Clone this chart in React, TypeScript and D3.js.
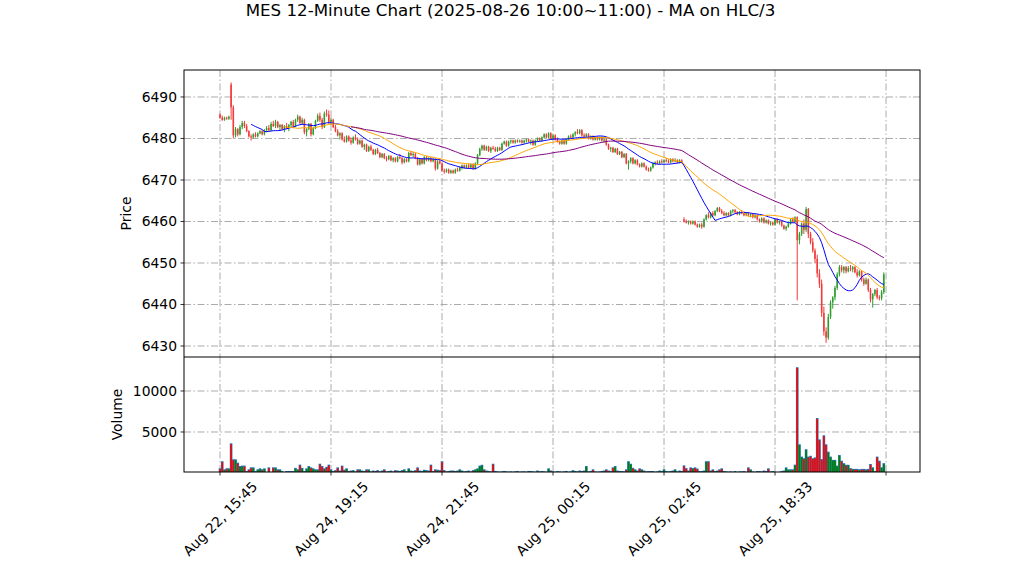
import React from "react";
import * as d3 from "d3";

const opens = [
  6485.75,6485,6484.5,6485,6484.75,6493,6487.5,6480.75,6482.25,6481,
  6482.75,6483.75,6483,6481.75,6480.5,6480.25,6481,6480.5,6481.25,6481.75,
  6481,6482,6482.5,6482,6483.5,6483,6484,6482.75,6483.25,6482.25,
  6483,6482.5,6483.25,6484,6483,6484.5,6485.25,6483.75,6484.5,6481.5,
  6482.25,6483.5,6481,6482.5,6484.25,6485.5,6484.5,6482.75,6486,6485.75,
  6484,6484.5,6482.75,6481.75,6480.75,6481.25,6479.75,6479.25,6480.5,6479.5,
  6479,6480.25,6479.75,6478.75,6479.5,6478,6478.5,6477,6478,6477.25,
  6476.25,6477.25,6476.5,6475.5,6476.25,6475.25,6475,6475.75,6474.75,6475.25,
  6474.5,6475.5,6475.25,6474.25,6475,6474.5,6476.5,6476,6476.25,6475.25,
  6473.75,6475,6474,6475.5,6474.75,6475.25,6474.5,6475,6472.75,6474.5,
  6474,6472.25,6472,6472.5,6471.75,6472.25,6471.75,6472.5,6472.25,6473,
  6473.5,6473,6473.5,6473,6473.75,6472.75,6474,6476,6477.5,6478.25,
  6477.25,6478,6477,6477.75,6477.5,6477,6477.75,6477.25,6478.75,6479.25,
  6478.25,6479.25,6479.5,6479,6479.5,6479.25,6479.5,6479,6479.5,6479.75,
  6479.25,6479.5,6478.5,6479.5,6480,6479.5,6480.25,6481,6480.25,6481.25,
  6480,6480.75,6479.75,6479.25,6478.75,6479.5,6478.75,6479.75,6480.5,6480.25,
  6481,6481.5,6481.25,6482,6480.75,6480.5,6481,6480,6480.5,6479.75,
  6480.25,6479.75,6480.25,6479.5,6479.75,6478.5,6477.5,6477.75,6476.75,6477.5,
  6476.25,6476.75,6475.5,6476.25,6474,6474.5,6475.25,6474,6474.75,6473.75,
  6473.25,6474,6473.25,6472.5,6472.25,6473,6474,6474.25,6474,6474.5,
  6474.25,6474.75,6474.5,6474.25,6475,6474.5,6474.75,6474.25,6474.75,6460.5,
  6460,6459.75,6460,6459.5,6460,6459.25,6458.75,6459.25,6458.75,6460.5,
  6461.5,6461,6462,6461.5,6462.5,6463.25,6462.5,6462,6461.5,6462,
  6461.5,6462.5,6462.75,6462.25,6461.75,6462.25,6462,6461.5,6462,6461.5,
  6461.75,6461,6461.5,6460.5,6460,6460.75,6459.75,6460.25,6459.5,6459.75,
  6459.25,6460.5,6459.75,6460,6459,6458.25,6458.75,6459.5,6460.5,6460,
  6461,6455.5,6457,6459.5,6458,6463,6457,6455,6453,6451,
  6447.5,6445,6438,6433.5,6432,6437,6440.5,6441.75,6444,6447.25,
  6449,6448.25,6449,6448,6448.75,6448.5,6449,6447.75,6447,6448,
  6446,6445,6446,6443.5,6441.25,6442.5,6443.5,6441.75,6441.5,6443,
];

const highs = [
  6486,6485.5,6485.25,6485.25,6485.5,6493.5,6488,6482.75,6482.5,6483.25,
  6484.25,6484.25,6483.5,6482,6481,6481.25,6481.5,6481.5,6482,6482,
  6482.25,6483,6483.25,6484,6484.25,6484.5,6484.25,6483.5,6483.5,6483.25,
  6483.75,6483.5,6484.25,6484.5,6484.75,6485.75,6485.5,6485,6484.75,6482.5,
  6483.75,6483.75,6482.75,6484.5,6486,6486.25,6485,6486.5,6487,6486.75,
  6485,6484.75,6483.25,6482.25,6481.5,6481.5,6480.5,6480.75,6480.75,6480.25,
  6480.5,6481,6480.25,6479.75,6479.75,6478.75,6478.75,6478.25,6478.5,6477.5,
  6477.5,6477.75,6476.75,6476.5,6476.5,6475.75,6476,6476,6475.5,6475.5,
  6475.75,6476.25,6475.5,6475.25,6475.25,6476.75,6477,6476.75,6476.5,6475.5,
  6475.25,6475.25,6475.75,6475.75,6475.5,6475.5,6475.25,6475.25,6474.75,6475,
  6474.25,6472.75,6472.75,6472.75,6472.5,6472.5,6472.75,6473,6473.25,6473.75,
  6473.75,6473.75,6474,6474,6474,6474.25,6476.25,6477.75,6478.5,6478.5,
  6478.25,6478.25,6478,6478.25,6478,6478,6478,6479,6479.5,6479.5,
  6479.5,6479.75,6479.75,6479.75,6479.75,6479.75,6479.75,6479.75,6480,6480,
  6479.75,6479.75,6479.75,6480.25,6480.25,6480.5,6481.25,6481.25,6481.5,6481.5,
  6481,6481,6480.25,6479.5,6479.75,6479.75,6480,6480.75,6481,6481.25,
  6481.75,6482.25,6482.25,6482.25,6481.25,6481.25,6481.25,6480.75,6480.75,6480.5,
  6480.5,6480.5,6480.5,6480,6480,6478.75,6478,6478,6477.75,6477.75,
  6477,6477,6476.5,6476.5,6474.75,6475.5,6475.5,6475,6475,6474,
  6474.25,6474.25,6473.5,6473,6473.25,6474.25,6474.5,6474.75,6474.75,6475,
  6475,6475.25,6475,6475.25,6475.25,6475.25,6475,6475,6475,6461,
  6460.5,6460.25,6460.25,6460.25,6460.25,6459.5,6459.5,6459.75,6460.75,6461.75,
  6462.25,6462.25,6462.5,6462.75,6463.5,6463.5,6463,6462.5,6462.25,6462.25,
  6462.75,6463,6463,6462.5,6462.5,6462.75,6462.5,6462.25,6462.25,6462,
  6462,6461.75,6461.75,6460.75,6461,6461,6460.5,6460.5,6460,6460,
  6460.75,6460.75,6460.25,6460.25,6459.25,6459,6459.75,6460.75,6461,6461.25,
  6461.25,6457.5,6459.75,6460.5,6463.5,6463.25,6457.5,6456,6453.5,6452,
  6448.5,6446,6439.5,6434.5,6437.75,6441,6442,6444.5,6447.75,6449.5,
  6449.5,6449.25,6449.25,6449.25,6449.5,6449.25,6449.25,6448.5,6448.25,6448.25,
  6446.5,6446.5,6446.25,6444,6442.75,6443.75,6444,6442.25,6443.5,6447.75,
];

const lows = [
  6484.75,6484.25,6484.25,6484.5,6484.5,6484.5,6480,6480.25,6480.5,6480.75,
  6482.25,6482.5,6481.5,6480.25,6479.5,6480,6480.25,6480.25,6481,6480.75,
  6480.75,6481.5,6481.75,6481.75,6482.75,6482.5,6482.5,6482,6482,6481.5,
  6482.25,6481.75,6482.75,6482.5,6482.75,6484,6483.5,6483.25,6481,6480.5,
  6482,6480.5,6480.75,6482.25,6484,6484,6482.25,6482.5,6485.25,6483.5,
  6483.25,6482.5,6481.5,6480.5,6479.75,6479.5,6479,6479,6479.25,6478.5,
  6478.75,6479.5,6478.5,6478.5,6477.75,6477.25,6476.75,6476.75,6477,6476,
  6476,6476.25,6475.25,6475.25,6475,6474.5,6474.75,6474.5,6474.25,6474.25,
  6474.25,6475,6473.75,6474,6474.25,6474.25,6475.75,6475.5,6475,6473.5,
  6473.5,6473.75,6473.75,6474.5,6474.5,6474.25,6474.25,6472.25,6472.5,6473.75,
  6472,6471.5,6471.75,6471.5,6471.5,6471.5,6471.5,6472,6472,6472.5,
  6472.75,6472.75,6472.75,6472.75,6472.5,6472.5,6473.75,6475.75,6477,6477,
  6477,6476.75,6476.5,6477.25,6476.75,6476.75,6477,6477,6478.5,6478,
  6478,6478.75,6478.75,6478.75,6479,6479,6478.75,6478.75,6479,6479,
  6478.5,6478.25,6478.25,6479.25,6479.25,6479.25,6480,6480,6480,6479.75,
  6479.75,6479.5,6479,6478.5,6478.5,6478.5,6478.5,6479.5,6480,6480,
  6480.5,6481,6481,6480.5,6480,6480.25,6479.75,6479.75,6479.5,6479.5,
  6479.5,6479.5,6479.25,6479,6478.25,6477.25,6476.75,6476.5,6476.5,6476,
  6476,6475.25,6475.25,6473.75,6472.5,6474,6473.75,6473.75,6473.5,6473,
  6473,6473,6472.25,6472,6472,6472.75,6473.5,6473.75,6473.75,6474,
  6474,6474.25,6474,6474,6474.25,6474.25,6474,6474,6474,6459.75,
  6459.5,6459.25,6459.25,6459.25,6459,6458.5,6458.5,6458.25,6458.5,6460.25,
  6460.75,6460.75,6461.25,6461.25,6462.25,6462.25,6461.75,6461.25,6461.25,6461.25,
  6461.25,6462,6462,6461.5,6461.5,6461.75,6461.25,6461.25,6461.25,6461,
  6460.75,6460.75,6460.25,6459.75,6459.75,6459.5,6459.5,6459.25,6459,6459,
  6459,6459.5,6459.25,6458.75,6458,6457.75,6458.5,6459.25,6459.75,6459.75,
  6441,6454.5,6456.5,6457,6457.5,6456,6454.5,6452.5,6450,6446.5,
  6444,6437,6432.5,6430.75,6431.5,6436.5,6439,6441,6443.5,6446.75,
  6447.75,6447.5,6447.5,6447.75,6448,6447.75,6447.5,6446.5,6446.75,6445.5,
  6444.5,6444.75,6443,6440.5,6439.25,6442,6441.25,6441,6441,6442.5,
];

const closes = [
  6485,6484.5,6485,6484.75,6485.25,6487.5,6480.75,6482.25,6481,6482.75,
  6483.75,6483,6481.75,6480.5,6480.25,6481,6480.5,6481.25,6481.75,6481,
  6482,6482.5,6482,6483.5,6483,6484,6482.75,6483.25,6482.25,6483,
  6482.5,6483.25,6484,6483,6484.5,6485.25,6483.75,6484.5,6481.5,6482.25,
  6483.5,6481,6482.5,6484.25,6485.5,6484.5,6482.75,6486,6485.75,6484,
  6484.5,6482.75,6481.75,6480.75,6481.25,6479.75,6479.25,6480.5,6479.5,6479,
  6480.25,6479.75,6478.75,6479.5,6478,6478.5,6477,6478,6477.25,6476.25,
  6477.25,6476.5,6475.5,6476.25,6475.25,6475,6475.75,6474.75,6475.25,6474.5,
  6475.5,6475.25,6474.25,6475,6474.5,6476.5,6476,6476.25,6475.25,6473.75,
  6475,6474,6475.5,6474.75,6475.25,6474.5,6475,6472.75,6474.5,6474,
  6472.25,6472,6472.5,6471.75,6472.25,6471.75,6472.5,6472.25,6473,6473.5,
  6473,6473.5,6473,6473.75,6472.75,6474,6476,6477.5,6478.25,6477.25,
  6478,6477,6477.75,6477.5,6477,6477.75,6477.25,6478.75,6479.25,6478.25,
  6479.25,6479.5,6479,6479.5,6479.25,6479.5,6479,6479.5,6479.75,6479.25,
  6479.5,6478.5,6479.5,6480,6479.5,6480.25,6481,6480.25,6481.25,6480,
  6480.75,6479.75,6479.25,6478.75,6479.5,6478.75,6479.75,6480.5,6480.25,6481,
  6481.5,6481.25,6482,6480.75,6480.5,6481,6480,6480.5,6479.75,6480.25,
  6479.75,6480.25,6479.5,6479.75,6478.5,6477.5,6477.75,6476.75,6477.5,6476.25,
  6476.75,6475.5,6476.25,6474,6474.5,6475.25,6474,6474.75,6473.75,6473.25,
  6474,6473.25,6472.5,6472.25,6473,6474,6474.25,6474,6474.5,6474.25,
  6474.75,6474.5,6474.25,6475,6474.5,6474.75,6474.25,6474.75,6474.25,6460,
  6459.75,6460,6459.5,6460,6459.25,6458.75,6459.25,6458.75,6460.5,6461.5,
  6461,6462,6461.5,6462.5,6463.25,6462.5,6462,6461.5,6462,6461.5,
  6462.5,6462.75,6462.25,6461.75,6462.25,6462,6461.5,6462,6461.5,6461.75,
  6461,6461.5,6460.5,6460,6460.75,6459.75,6460.25,6459.5,6459.75,6459.25,
  6460.5,6459.75,6460,6459,6458.25,6458.75,6459.5,6460.5,6460,6461,
  6455.5,6457,6459.5,6458,6463,6457,6455,6453,6451,6447.5,
  6445,6438,6433.5,6432,6437,6440.5,6441.75,6444,6447.25,6449,
  6448.25,6449,6448,6448.75,6448.5,6449,6447.75,6447,6448,6446,
  6445,6446,6443.5,6441.25,6442.5,6443.5,6441.75,6441.5,6443,6447.25,
];

const volumes = [
  570,1430,450,570,570,3620,1670,1670,1260,850,
  900,900,240,450,690,690,240,450,570,450,
  570,120,690,120,690,690,450,450,240,120,
  240,240,240,240,630,450,1020,630,240,570,
  850,690,570,450,450,1130,850,570,750,1020,
  450,240,350,690,300,900,400,570,250,300,
  350,200,450,450,300,250,450,450,200,300,
  250,350,200,300,450,200,240,300,200,350,
  300,250,350,450,200,570,300,250,350,690,
  300,250,400,350,300,1020,250,450,400,350,
  1430,350,200,250,300,300,250,300,450,300,
  200,250,300,200,350,450,570,900,1000,450,
  300,250,200,1130,250,200,150,200,250,200,
  150,200,150,200,250,150,200,200,150,250,
  240,200,150,300,200,240,200,150,570,300,
  200,150,240,200,150,200,250,150,200,350,
  240,200,300,250,300,850,200,250,450,200,
  150,200,250,300,450,300,250,690,850,300,
  250,240,200,450,1440,1130,630,450,300,570,
  450,300,200,240,240,240,150,200,300,250,
  450,240,200,250,300,450,200,300,250,930,
  600,300,690,600,690,540,240,240,300,1440,
  1440,300,450,240,300,450,570,240,200,150,
  200,150,240,150,200,200,240,150,690,450,
  200,150,240,240,200,300,250,570,200,240,
  150,120,150,250,300,690,450,450,450,1020,
  12900,3500,2000,1800,2900,2000,2100,1800,1900,6700,
  4100,1700,4600,3500,2600,2000,1600,1600,900,2200,
  1500,1200,1000,1000,600,500,500,500,450,500,
  500,450,500,1100,700,250,2000,1500,700,1200,
];

const xTickIndex = [0, 50, 100, 150, 200, 250, 300];
const xTickLabels = ["Aug 22, 15:45", "Aug 24, 19:15", "Aug 24, 21:45", "Aug 25, 00:15", "Aug 25, 02:45", "Aug 25, 18:33", ""];
const priceTicks = [6430, 6440, 6450, 6460, 6470, 6480, 6490];
const volumeTicks = [5000, 10000];
const maWindows = [15, 30, 60];
const maColors = ["#0000ff", "#ffa500", "#800080"];

const titleText = "MES 12-Minute Chart (2025-08-26 10:00~11:00) - MA on HLC/3";

const W = 1022;
const H = 575;
const LEFT = 184;
const RIGHT = 920;
const P_TOP = 70;
const P_BOT = 357;
const V_TOP = 357;
const V_BOT = 472;
const UP = "#2f9e2f";
const DOWN = "#f23a3a";
const GRID = "#ababab";
const DASH = "7,2.5,1.5,2.5";
const FONT = "DejaVu Sans, sans-serif";

export default function App() {
  const n = closes.length;
  const x = d3.scaleLinear().domain([-16.22, 315.3]).range([LEFT, RIGHT]);
  const yP = d3.scaleLinear().domain([6427.35, 6496.5]).range([P_BOT, P_TOP]);
  const yV = d3.scaleLinear().domain([0, 14146]).range([473, V_TOP]);
  const step = x(1) - x(0);
  const bw = step * 0.7;

  const typical = closes.map((c, i) => (highs[i] + lows[i] + c) / 3);
  const mas = maWindows.map((w) =>
    typical.map((_, i) => (i < w - 1 ? null : (d3.mean(typical.slice(i - w + 1, i + 1)) as number)))
  );
  const line = d3
    .line<number | null>()
    .defined((d) => d != null)
    .x((_, i) => x(i))
    .y((d) => yP(d as number));

  const idx = d3.range(n);

  return (
    <svg
      width={W}
      height={H}
      style={{ position: "absolute", left: 0, top: 0, background: "#fff" }}
      fontFamily={FONT}
    >
      <defs>
        <clipPath id="pclip">
          <rect x={LEFT} y={P_TOP} width={RIGHT - LEFT} height={P_BOT - P_TOP} />
        </clipPath>
        <clipPath id="vclip">
          <rect x={LEFT} y={V_TOP} width={RIGHT - LEFT} height={V_BOT - V_TOP} />
        </clipPath>
      </defs>
      <rect x={0} y={0} width={W} height={H} fill="#fff" />
      <text x={510.5} y={16} textAnchor="middle" fontSize={16.67} fill="#000">
        {titleText}
      </text>

      {/* grids */}
      {priceTicks.map((t) => (
        <line key={"pg" + t} x1={LEFT} x2={RIGHT} y1={yP(t)} y2={yP(t)} stroke={GRID} strokeWidth={1} strokeDasharray={DASH} />
      ))}
      {volumeTicks.map((t) => (
        <line key={"vg" + t} x1={LEFT} x2={RIGHT} y1={yV(t)} y2={yV(t)} stroke={GRID} strokeWidth={1} strokeDasharray={DASH} />
      ))}
      {xTickIndex.map((t) => (
        <g key={"xg" + t}>
          <line x1={x(t)} x2={x(t)} y1={P_TOP} y2={P_BOT} stroke={GRID} strokeWidth={1} strokeDasharray={DASH} />
          <line x1={x(t)} x2={x(t)} y1={V_TOP} y2={V_BOT} stroke={GRID} strokeWidth={1} strokeDasharray={DASH} />
        </g>
      ))}

      {/* candles */}
      <g clipPath="url(#pclip)">
        {idx.map((i) => {
          const up = closes[i] >= opens[i];
          const col = up ? UP : DOWN;
          const cx = x(i);
          const yTop = yP(Math.max(opens[i], closes[i]));
          const yBot = yP(Math.min(opens[i], closes[i]));
          return (
            <g key={"c" + i}>
              <line x1={cx} x2={cx} y1={yP(highs[i])} y2={yP(lows[i])} stroke={col} strokeWidth={1} />
              <rect x={cx - bw / 2} y={yTop} width={bw} height={Math.max(0.8, yBot - yTop)} fill={col} />
            </g>
          );
        })}
        {mas.map((m, k) => (
          <path key={"ma" + k} d={line(m) || ""} fill="none" stroke={maColors[k]} strokeWidth={1} />
        ))}
      </g>

      {/* volume: blue bar with up/down coloured core */}
      <g clipPath="url(#vclip)">
        {idx.map((i) => {
          const top = yV(volumes[i]);
          return (
            <rect key={"vb" + i} x={x(i) - 1.3} y={top} width={2.6} height={Math.max(0, V_BOT + 2 - top)} fill="#1f77b4" />
          );
        })}
        {idx.map((i) => {
          const up = closes[i] >= opens[i];
          const col = up ? "#008000" : "#ff0000";
          const top = yV(volumes[i]) + 0.9;
          return (
            <rect key={"vc" + i} x={x(i) - 0.8} y={top} width={1.6} height={Math.max(0, V_BOT + 2 - top)} fill={col} />
          );
        })}
      </g>

      {/* frames */}
      <rect x={LEFT} y={P_TOP} width={RIGHT - LEFT} height={V_BOT - P_TOP} fill="none" stroke="#000" strokeWidth={1} />
      <line x1={LEFT} x2={RIGHT} y1={P_BOT} y2={P_BOT} stroke="#000" strokeWidth={1} />

      {/* y ticks price */}
      {priceTicks.map((t) => (
        <g key={"pt" + t}>
          <line x1={LEFT - 3.5} x2={LEFT} y1={yP(t)} y2={yP(t)} stroke="#000" strokeWidth={0.8} />
          <text x={LEFT - 7} y={yP(t)} textAnchor="end" dominantBaseline="central" fontSize={13.89} fill="#000">
            {t}
          </text>
        </g>
      ))}
      {volumeTicks.map((t) => (
        <g key={"vt" + t}>
          <line x1={LEFT - 3.5} x2={LEFT} y1={yV(t)} y2={yV(t)} stroke="#000" strokeWidth={0.8} />
          <text x={LEFT - 7} y={yV(t)} textAnchor="end" dominantBaseline="central" fontSize={13.89} fill="#000">
            {t}
          </text>
        </g>
      ))}

      {/* x ticks */}
      {xTickIndex.map((t, k) => (
        <g key={"xt" + t}>
          <line x1={x(t)} x2={x(t)} y1={V_BOT} y2={V_BOT + 3.5} stroke="#000" strokeWidth={0.8} />
          {xTickLabels[k] ? (
            <text
              transform={`translate(${x(t)},${518.5}) rotate(-45)`}
              textAnchor="middle"
              dominantBaseline="central"
              fontSize={13.89}
              fill="#000"
            >
              {xTickLabels[k]}
            </text>
          ) : null}
        </g>
      ))}

      {/* axis labels */}
      <text transform={`translate(131,${(P_TOP + P_BOT) / 2}) rotate(-90)`} textAnchor="middle" fontSize={13.89} fill="#000">
        Price
      </text>
      <text transform={`translate(122,${(V_TOP + V_BOT) / 2}) rotate(-90)`} textAnchor="middle" fontSize={13.89} fill="#000">
        Volume
      </text>
    </svg>
  );
}
